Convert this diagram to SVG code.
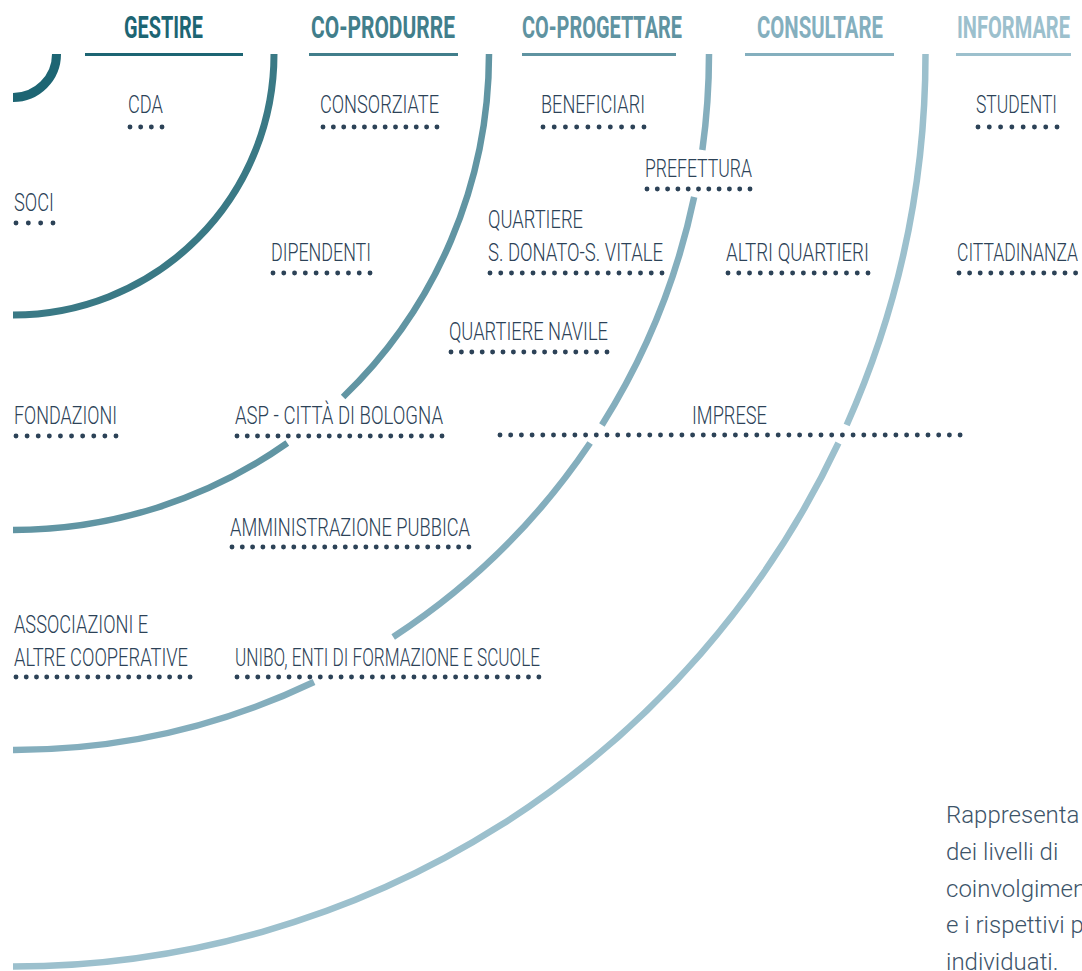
<svg xmlns="http://www.w3.org/2000/svg" width="1082" height="971" viewBox="0 0 1082 971">
<style>
.hdr{font-family:Roboto,'Open Sans','Liberation Sans',sans-serif;font-weight:700;font-size:31px}
.lbl{font-family:Roboto,'Open Sans','Liberation Sans',sans-serif;font-weight:300;font-size:26.5px;fill:#2c4257}
.note{font-family:Roboto,'Liberation Sans',sans-serif;font-weight:300;font-size:24px;fill:#3d5469}
.dots{fill:none;stroke:#2c4257;stroke-width:4.9;stroke-linecap:round}
.arc{fill:none}
.ul{stroke-width:3}
</style>
<rect width="1082" height="971" fill="#ffffff"/>
<g id="levels">
  <path class="arc" stroke="#1d6573" stroke-width="9" d="M56.5 54 A43.5 43.5 0 0 1 13 97.5"/>
  <path class="arc" stroke="#3a7985" stroke-width="7" d="M274 54 A261 261 0 0 1 13 315"/>
  <path class="arc" stroke="#6195a3" stroke-width="6.5" d="M489 54 A476 476 0 0 1 343.1 397"/>
  <path class="arc" stroke="#6195a3" stroke-width="6.5" d="M287.3 443 A476 476 0 0 1 13 530"/>
  <path class="arc" stroke="#84aebd" stroke-width="6.5" d="M709 54 A696 696 0 0 1 702.35 150"/>
  <path class="arc" stroke="#84aebd" stroke-width="6.5" d="M694.15 197 A696 696 0 0 1 601.9 425"/>
  <path class="arc" stroke="#84aebd" stroke-width="6.5" d="M590.1 443 A696 696 0 0 1 393.2 637"/>
  <path class="arc" stroke="#84aebd" stroke-width="6.5" d="M314 682 A696 696 0 0 1 13 750"/>
  <path class="arc" stroke="#9cc0cd" stroke-width="6.5" d="M925.5 54 A912.5 912.5 0 0 1 846.67 425"/>
  <path class="arc" stroke="#9cc0cd" stroke-width="6.5" d="M838.43 443 A912.5 912.5 0 0 1 13 966.5"/>
</g>
<g id="header-gestire">
  <text class="hdr" fill="#1d6573" x="124" y="38" textLength="79" lengthAdjust="spacingAndGlyphs">GESTIRE</text>
  <line class="ul" stroke="#1d6573" x1="85" y1="54.5" x2="243" y2="54.5"/>
</g>
<g id="header-coprodurre">
  <text class="hdr" fill="#417e8b" x="311" y="38" textLength="144" lengthAdjust="spacingAndGlyphs">CO-PRODURRE</text>
  <line class="ul" stroke="#417e8b" x1="309" y1="54.5" x2="458" y2="54.5"/>
</g>
<g id="header-coprogettare">
  <text class="hdr" fill="#5f93a1" x="522" y="38" textLength="160" lengthAdjust="spacingAndGlyphs">CO-PROGETTARE</text>
  <line class="ul" stroke="#5f93a1" x1="522" y1="54.5" x2="676" y2="54.5"/>
</g>
<g id="header-consultare">
  <text class="hdr" fill="#84afbe" x="757" y="38" textLength="126" lengthAdjust="spacingAndGlyphs">CONSULTARE</text>
  <line class="ul" stroke="#84afbe" x1="745" y1="54.5" x2="894" y2="54.5"/>
</g>
<g id="header-informare">
  <text class="hdr" fill="#9cc0cd" x="957" y="38" textLength="113" lengthAdjust="spacingAndGlyphs">INFORMARE</text>
  <line class="ul" stroke="#9cc0cd" x1="956" y1="54.5" x2="1071" y2="54.5"/>
</g>
<g id="node-cda">
  <text class="lbl" x="128" y="113" textLength="35" lengthAdjust="spacingAndGlyphs">CDA</text>
  <path class="dots" stroke-dasharray="0 10.67" d="M130 127 H162.5"/>
</g>
<g id="node-consorziate">
  <text class="lbl" x="320" y="113" textLength="119" lengthAdjust="spacingAndGlyphs">CONSORZIATE</text>
  <path class="dots" stroke-dasharray="0 10.36" d="M323 127 H437.5"/>
</g>
<g id="node-beneficiari">
  <text class="lbl" x="541" y="113" textLength="104" lengthAdjust="spacingAndGlyphs">BENEFICIARI</text>
  <path class="dots" stroke-dasharray="0 11.22" d="M543 127 H644.5"/>
</g>
<g id="node-studenti">
  <text class="lbl" x="976" y="113" textLength="81" lengthAdjust="spacingAndGlyphs">STUDENTI</text>
  <path class="dots" stroke-dasharray="0 11.29" d="M978 127 H1057.5"/>
</g>
<g id="node-prefettura">
  <text class="lbl" x="645" y="177" textLength="107" lengthAdjust="spacingAndGlyphs">PREFETTURA</text>
  <path class="dots" stroke-dasharray="0 10.3" d="M647 189 H750.5"/>
</g>
<g id="node-soci">
  <text class="lbl" x="14" y="211" textLength="40" lengthAdjust="spacingAndGlyphs">SOCI</text>
  <path class="dots" stroke-dasharray="0 12.33" d="M16 223 H53.5"/>
</g>
<g id="node-quartiere-sdonato">
  <text class="lbl" x="488" y="228" textLength="95" lengthAdjust="spacingAndGlyphs">QUARTIERE</text>
  <text class="lbl" x="488" y="261" textLength="175" lengthAdjust="spacingAndGlyphs">S. DONATO-S. VITALE</text>
  <path class="dots" stroke-dasharray="0 10.75" d="M490 273 H662.5"/>
</g>
<g id="node-dipendenti">
  <text class="lbl" x="271" y="261" textLength="100" lengthAdjust="spacingAndGlyphs">DIPENDENTI</text>
  <path class="dots" stroke-dasharray="0 10.78" d="M273 273 H370.5"/>
</g>
<g id="node-altri-quartieri">
  <text class="lbl" x="726" y="261" textLength="143" lengthAdjust="spacingAndGlyphs">ALTRI QUARTIERI</text>
  <path class="dots" stroke-dasharray="0 10.77" d="M728 273 H868.5"/>
</g>
<g id="node-cittadinanza">
  <text class="lbl" x="957" y="261" textLength="121" lengthAdjust="spacingAndGlyphs">CITTADINANZA</text>
  <path class="dots" stroke-dasharray="0 10.6" d="M959 273 H1090"/>
</g>
<g id="node-quartiere-navile">
  <text class="lbl" x="449" y="340" textLength="159" lengthAdjust="spacingAndGlyphs">QUARTIERE NAVILE</text>
  <path class="dots" stroke-dasharray="0 10.4" d="M451 352 H607.5"/>
</g>
<g id="node-fondazioni">
  <text class="lbl" x="14" y="424" textLength="103" lengthAdjust="spacingAndGlyphs">FONDAZIONI</text>
  <path class="dots" stroke-dasharray="0 11.11" d="M16 436 H116.5"/>
</g>
<g id="node-asp">
  <text class="lbl" x="235" y="424" textLength="208" lengthAdjust="spacingAndGlyphs">ASP - CITTÀ DI BOLOGNA</text>
  <path class="dots" stroke-dasharray="0 10.25" d="M237 436 H442.5"/>
</g>
<g id="node-imprese">
  <text class="lbl" x="692" y="424" textLength="75" lengthAdjust="spacingAndGlyphs">IMPRESE</text>
  <path class="dots" stroke-dasharray="0 10.7" d="M500 435 H960.5"/>
</g>
<g id="node-amministrazione">
  <text class="lbl" x="230" y="536" textLength="240" lengthAdjust="spacingAndGlyphs">AMMINISTRAZIONE PUBBICA</text>
  <path class="dots" stroke-dasharray="0 10.3" d="M232 547 H469.5"/>
</g>
<g id="node-associazioni">
  <text class="lbl" x="14" y="633" textLength="134" lengthAdjust="spacingAndGlyphs">ASSOCIAZIONI E</text>
  <text class="lbl" x="14" y="666" textLength="174" lengthAdjust="spacingAndGlyphs">ALTRE COOPERATIVE</text>
  <path class="dots" stroke-dasharray="0 10.24" d="M16 677 H190.5"/>
</g>
<g id="node-unibo">
  <text class="lbl" x="235" y="666" textLength="305" lengthAdjust="spacingAndGlyphs">UNIBO, ENTI DI FORMAZIONE E SCUOLE</text>
  <path class="dots" stroke-dasharray="0 10.41" d="M237 677 H539.5"/>
</g>
<g id="caption">
  <text class="note" x="946" y="823">Rappresenta</text>
  <text class="note" x="946" y="860">dei livelli di</text>
  <text class="note" x="946" y="897">coinvolgimen</text>
  <text class="note" x="946" y="933">e i rispettivi p</text>
  <text class="note" x="946" y="970">individuati.</text>
</g>
</svg>
